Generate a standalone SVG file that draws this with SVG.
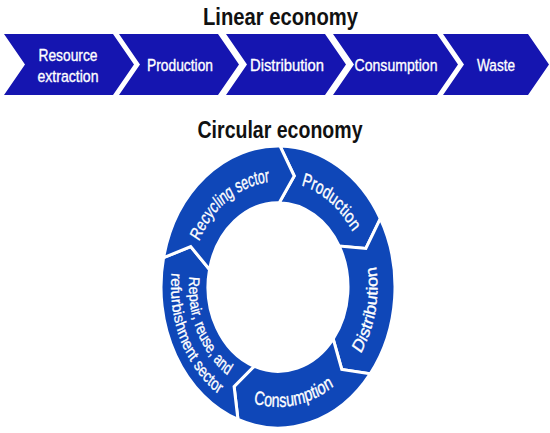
<svg xmlns="http://www.w3.org/2000/svg" width="550" height="433" viewBox="0 0 550 433">
<style>
.title{font-family:"Liberation Sans",Arial,sans-serif;font-weight:bold;font-size:24px;fill:#111;text-anchor:middle}
.chev{fill:#1515b0}
.seg{fill:#0f47b8;stroke:#fff;stroke-width:3;stroke-linejoin:miter;vector-effect:non-scaling-stroke}
.lbl{font-family:"Liberation Sans",Arial,sans-serif;font-size:17px;fill:#fff;stroke:#fff;stroke-width:0.35px;text-anchor:middle}
.rl{font-family:"Liberation Sans",Arial,sans-serif;font-size:16px;fill:#fff;stroke:#fff;stroke-width:0.3px;text-anchor:middle}
.rs{font-size:15px}
</style>
<defs>
<path id="pRec" d="M -75.78 43.75 A 87.5 87.5 0 0 1 67.03 -56.24"/>
<path id="pPro" d="M -65.02 -58.55 A 87.5 87.5 0 0 1 74.20 46.37"/>
<path id="pDis" d="M -12.13 98.76 A 99.5 99.5 0 0 0 29.09 -95.15"/>
<path id="pCon" d="M -96.11 25.75 A 99.5 99.5 0 0 0 99.12 -8.67"/>
<path id="pRep1" d="M -44.5 -77.08 A 89 89 0 0 0 30.44 83.63"/>
<path id="pRep2" d="M -53.5 -92.67 A 107 107 0 0 0 36.60 100.55"/>
</defs>
<rect width="550" height="433" fill="#fff"/>
<text class="title" x="280.5" y="25" textLength="155" lengthAdjust="spacingAndGlyphs">Linear economy</text>
<g id="lin-resource">
<polygon class="chev" points="4,34 113,34 134,64.5 113,95 4,95 25,64.5"/>
<text class="lbl" x="68" y="61" textLength="59" lengthAdjust="spacingAndGlyphs">Resource</text>
<text class="lbl" x="68" y="82" textLength="61" lengthAdjust="spacingAndGlyphs">extraction</text>
</g>
<g id="lin-production">
<polygon class="chev" points="119,34 218,34 239,64.5 218,95 119,95 140,64.5"/>
<text class="lbl" x="180" y="71" textLength="66" lengthAdjust="spacingAndGlyphs">Production</text>
</g>
<g id="lin-distribution">
<polygon class="chev" points="226,34 325,34 346,64.5 325,95 226,95 247,64.5"/>
<text class="lbl" x="287" y="71" textLength="74" lengthAdjust="spacingAndGlyphs">Distribution</text>
</g>
<g id="lin-consumption">
<polygon class="chev" points="333,34 437,34 458,64.5 437,95 333,95 354,64.5"/>
<text class="lbl" x="396" y="71" textLength="83" lengthAdjust="spacingAndGlyphs">Consumption</text>
</g>
<g id="lin-waste">
<polygon class="chev" points="443,34 528,34 549,64.5 528,95 443,95 464,64.5"/>
<text class="lbl" x="496" y="71" textLength="38" lengthAdjust="spacingAndGlyphs">Waste</text>
</g>
<text class="title" x="280" y="138" textLength="165" lengthAdjust="spacingAndGlyphs">Circular economy</text>
<g transform="translate(278,287) scale(1,1.205)">
<g id="circ-production">
<path class="seg" d="M 2.04 -116.98 A 117 117 0 0 1 102.33 -56.72 L 87.86 -31.98 L 61.22 -33.94 A 70 70 0 0 0 1.22 -69.99 L 16.24 -92.08 Z"/>
<text class="rl"><textPath href="#pPro" startOffset="50%" textLength="66" lengthAdjust="spacingAndGlyphs">Production</textPath></text>
</g>
<g id="circ-distribution">
<path class="seg" d="M 102.33 -56.72 A 117 117 0 0 1 92.20 72.03 L 63.77 68.38 L 55.16 43.10 A 70 70 0 0 0 61.22 -33.94 L 87.86 -31.98 Z"/>
<text class="rl"><textPath href="#pDis" startOffset="50%" textLength="76" lengthAdjust="spacingAndGlyphs">Distribution</textPath></text>
</g>
<g id="circ-consumption">
<path class="seg" d="M 92.20 72.03 A 117 117 0 0 1 -40.02 109.94 L -43.90 82.56 L -23.94 65.78 A 70 70 0 0 0 55.16 43.10 L 63.77 68.38 Z"/>
<text class="rl"><textPath href="#pCon" startOffset="50%" textLength="84" lengthAdjust="spacingAndGlyphs">Consumption</textPath></text>
</g>
<g id="circ-repair">
<path class="seg" d="M -40.02 109.94 A 117 117 0 0 1 -114.44 -24.33 L -87.29 -33.51 L -68.47 -14.55 A 70 70 0 0 0 -23.94 65.78 L -43.90 82.56 Z"/>
<text class="rl rs"><textPath href="#pRep1" startOffset="50%" textLength="95" lengthAdjust="spacingAndGlyphs">Repair, reuse, and</textPath></text>
<text class="rl rs"><textPath href="#pRep2" startOffset="50%" textLength="117" lengthAdjust="spacingAndGlyphs">refurbishment sector</textPath></text>
</g>
<g id="circ-recycling">
<path class="seg" d="M -114.44 -24.33 A 117 117 0 0 1 2.04 -116.98 L 16.24 -92.08 L 1.22 -69.99 A 70 70 0 0 0 -68.47 -14.55 L -87.29 -33.51 Z"/>
<text class="rl"><textPath href="#pRec" startOffset="50%" textLength="90" lengthAdjust="spacingAndGlyphs">Recycling sector</textPath></text>
</g>
</g>
<g id="connectors"></g>
</svg>
